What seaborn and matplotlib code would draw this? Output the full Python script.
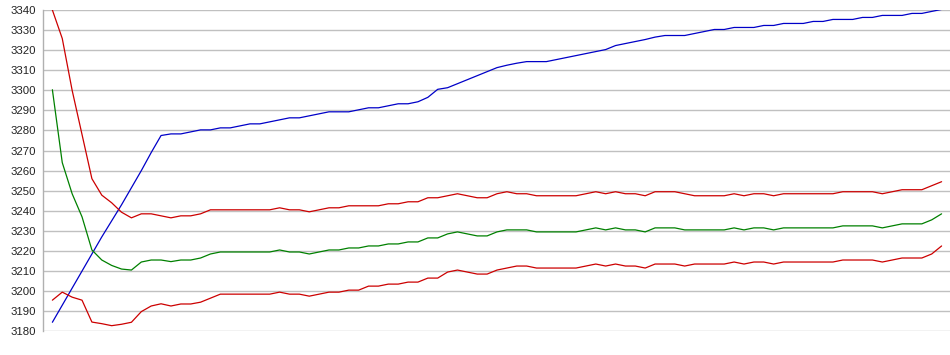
import numpy as np
import pandas as pd
import seaborn as sns
import matplotlib
matplotlib.use("Agg")
import matplotlib.pyplot as plt

# values, one point per step
blue = [3184.5, 3193, 3201.5, 3210, 3218.5, 3227, 3235, 3243, 3251.5, 3260,
        3269, 3277.5, 3278.3, 3278.3, 3279.3, 3280.3, 3280.3, 3281.3, 3281.3, 3282.3,
        3283.3, 3283.3, 3284.3, 3285.3, 3286.3, 3286.3, 3287.3, 3288.3, 3289.3, 3289.3,
        3289.3, 3290.3, 3291.3, 3291.3, 3292.3, 3293.3, 3293.3, 3294.3, 3296.5, 3300.5,
        3301.3, 3303.3, 3305.3, 3307.3, 3309.3, 3311.3, 3312.5, 3313.5, 3314.3, 3314.3,
        3314.3, 3315.3, 3316.3, 3317.3, 3318.3, 3319.3, 3320.3, 3322.3, 3323.3, 3324.3,
        3325.3, 3326.5, 3327.3, 3327.3, 3327.3, 3328.3, 3329.3, 3330.3, 3330.3, 3331.3,
        3331.3, 3331.3, 3332.3, 3332.3, 3333.3, 3333.3, 3333.3, 3334.3, 3334.3, 3335.3,
        3335.3, 3335.3, 3336.3, 3336.3, 3337.3, 3337.3, 3337.3, 3338.3, 3338.3, 3339.3,
        3340.3]

red_upper = [3340, 3325.8, 3300, 3278, 3256, 3247.8, 3244, 3239.3, 3236.5, 3238.5,
             3238.5, 3237.5, 3236.5, 3237.5, 3237.5, 3238.5, 3240.5, 3240.5, 3240.5, 3240.5,
             3240.5, 3240.5, 3240.5, 3241.5, 3240.5, 3240.5, 3239.5, 3240.5, 3241.5, 3241.5,
             3242.5, 3242.5, 3242.5, 3242.5, 3243.5, 3243.5, 3244.5, 3244.5, 3246.5, 3246.5,
             3247.5, 3248.5, 3247.5, 3246.5, 3246.5, 3248.5, 3249.5, 3248.5, 3248.5, 3247.5,
             3247.5, 3247.5, 3247.5, 3247.5, 3248.5, 3249.5, 3248.5, 3249.5, 3248.5, 3248.5,
             3247.5, 3249.5, 3249.5, 3249.5, 3248.5, 3247.5, 3247.5, 3247.5, 3247.5, 3248.5,
             3247.5, 3248.5, 3248.5, 3247.5, 3248.5, 3248.5, 3248.5, 3248.5, 3248.5, 3248.5,
             3249.5, 3249.5, 3249.5, 3249.5, 3248.5, 3249.5, 3250.5, 3250.5, 3250.5, 3252.5,
             3254.5]

green = [3300.3, 3264, 3248.5, 3237, 3220.5, 3215.5, 3212.8, 3211, 3210.5, 3214.5,
         3215.5, 3215.5, 3214.7, 3215.5, 3215.5, 3216.5, 3218.5, 3219.5, 3219.5, 3219.5,
         3219.5, 3219.5, 3219.5, 3220.5, 3219.5, 3219.5, 3218.5, 3219.5, 3220.5, 3220.5,
         3221.5, 3221.5, 3222.5, 3222.5, 3223.5, 3223.5, 3224.5, 3224.5, 3226.5, 3226.5,
         3228.5, 3229.5, 3228.5, 3227.5, 3227.5, 3229.5, 3230.5, 3230.5, 3230.5, 3229.5,
         3229.5, 3229.5, 3229.5, 3229.5, 3230.5, 3231.5, 3230.5, 3231.5, 3230.5, 3230.5,
         3229.5, 3231.5, 3231.5, 3231.5, 3230.5, 3230.5, 3230.5, 3230.5, 3230.5, 3231.5,
         3230.5, 3231.5, 3231.5, 3230.5, 3231.5, 3231.5, 3231.5, 3231.5, 3231.5, 3231.5,
         3232.5, 3232.5, 3232.5, 3232.5, 3231.5, 3232.5, 3233.5, 3233.5, 3233.5, 3235.5,
         3238.5]

red_lower = [3195.5, 3199.5, 3197, 3195.5, 3184.6, 3183.8, 3182.8, 3183.5, 3184.5, 3189.8,
             3192.6, 3193.7, 3192.6, 3193.6, 3193.6, 3194.5, 3196.5, 3198.5, 3198.5, 3198.5,
             3198.5, 3198.5, 3198.5, 3199.5, 3198.5, 3198.5, 3197.5, 3198.5, 3199.5, 3199.5,
             3200.5, 3200.5, 3202.5, 3202.5, 3203.5, 3203.5, 3204.5, 3204.5, 3206.5, 3206.5,
             3209.5, 3210.5, 3209.5, 3208.5, 3208.5, 3210.5, 3211.5, 3212.5, 3212.5, 3211.5,
             3211.5, 3211.5, 3211.5, 3211.5, 3212.5, 3213.5, 3212.5, 3213.5, 3212.5, 3212.5,
             3211.5, 3213.5, 3213.5, 3213.5, 3212.5, 3213.5, 3213.5, 3213.5, 3213.5, 3214.5,
             3213.5, 3214.5, 3214.5, 3213.5, 3214.5, 3214.5, 3214.5, 3214.5, 3214.5, 3214.5,
             3215.5, 3215.5, 3215.5, 3215.5, 3214.5, 3215.5, 3216.5, 3216.5, 3216.5, 3218.5,
             3222.5]

y_ticks = list(range(3180, 3341, 10))

sns.set_style("white")
plt.rcParams['font.family'] = ['Liberation Sans', 'DejaVu Sans']

step = np.arange(len(blue))
df = pd.DataFrame({"step": step, "blue": blue, "red_upper": red_upper,
                   "green": green, "red_lower": red_lower})

fig = plt.figure(figsize=(9.5, 3.55), dpi=100)
ax = fig.add_axes([42.5 / 950, 1 - 331.3 / 355, 1 - 42.5 / 950, 321.3 / 355])

colors = {"blue": "#0000c8", "red_upper": "#cc0000", "green": "#008000", "red_lower": "#cc0000"}
for col, c in colors.items():
    sns.lineplot(data=df, x="step", y=col, color=c, linewidth=0.9, ax=ax, zorder=3)

ax.set_xlim(-1, 90.85)
ax.set_ylim(3180, 3340)
ax.set_yticks(y_ticks)
ax.set_xticks([])
ax.set_xlabel("")
ax.set_ylabel("")
ax.grid(axis="y", color="#c0c0c0", linewidth=1)
ax.tick_params(axis="y", length=0, pad=4.5, labelsize=8.2, labelcolor="#222222")
for s in ["top", "right", "bottom"]:
    ax.spines[s].set_visible(False)
ax.spines["left"].set_color("#b0b0b0")
ax.spines["left"].set_linewidth(1)

fig.savefig("out.png", dpi=100)
